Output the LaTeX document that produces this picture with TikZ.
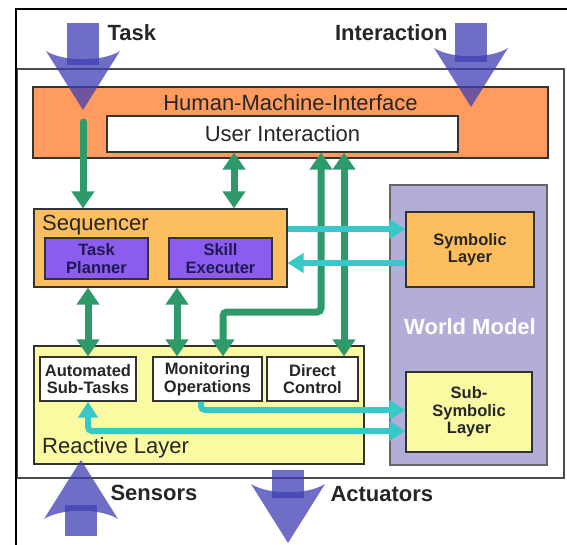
\documentclass[tikz,border=0pt]{standalone}
\usepackage{fontspec}
\setmainfont{Liberation Sans}
\usetikzlibrary{arrows.meta}

\definecolor{hmiorange}{RGB}{255,155,94}
\definecolor{seqorange}{RGB}{253,190,96}
\definecolor{planpurple}{RGB}{140,92,238}
\definecolor{reactyellow}{RGB}{250,250,162}
\definecolor{worldblue}{RGB}{178,174,216}
\definecolor{linkgreen}{RGB}{46,154,106}
\definecolor{linkcyan}{RGB}{56,200,200}
\definecolor{arrowblue}{RGB}{62,62,180}
\definecolor{purpletext}{RGB}{30,25,80}

% big translucent arrow, tip at the origin of the scope
\newcommand{\bigarrow}[2]{%
  \begin{scope}[#1]
    \fill[bluearrow] (-16,-#2) rectangle (16,-45);
    \fill[bluearrow] (-37,-59) -- (0,0) -- (37,-59) .. controls (20,-48) and (-20,-48) .. cycle;
  \end{scope}}

\begin{document}
\begin{tikzpicture}[x=1pt,y=-1pt,
  box/.style={draw=black!80,line width=1.2pt,inner sep=0pt},
  bigtxt/.style={font=\fontsize{22}{24}\selectfont,text=black!85},
  boldtxt/.style={font=\fontsize{22}{24}\selectfont\bfseries,text=black!85},
  smalltxt/.style={font=\fontsize{16.5}{17.5}\selectfont\bfseries,align=center,text=black!85},
  garrow/.style={draw=linkgreen,line width=7pt,>={Triangle[width=22pt,length=17pt]}},
  carrow/.style={draw=linkcyan,line width=6pt,>={Triangle[width=19pt,length=16pt]}},
  bluearrow/.style={fill=arrowblue,fill opacity=0.75}]
\useasboundingbox (0,0) rectangle (567,545);

% frames
\draw[draw=black!70,line width=1.5pt,fill=white] (17,69) rectangle (564,478);
\draw[line width=2.5pt] (16,545) -- (16,9) -- (567,9);

% human-machine-interface
\node[box,fill=hmiorange,minimum width=515pt,minimum height=71pt] (hmi) at (290.5,122.5) {};
\node[bigtxt] (hmitxt) at (290.5,103) {Human-Machine-Interface};
\node[box,fill=white,minimum width=351pt,minimum height=36pt,bigtxt] (ui) at (282.5,134) {User Interaction};

% sequencer
\node[box,fill=seqorange,minimum width=253pt,minimum height=78pt] (seq) at (160.5,248) {};
\node[bigtxt,anchor=west,inner sep=0pt] (seqtxt) at (42,225) {Sequencer};
\node[box,fill=planpurple,minimum width=103pt,minimum height=41pt,smalltxt,text=purpletext] (planner) at (96.5,258.5) {Task\\Planner};
\node[box,fill=planpurple,minimum width=103pt,minimum height=41pt,smalltxt,text=purpletext] (skill) at (220.5,258.5) {Skill\\Executer};

% reactive layer
\node[box,fill=reactyellow,minimum width=330pt,minimum height=118pt] (react) at (199,405) {};
\node[bigtxt,anchor=west,inner sep=0pt] (reacttxt) at (42,448) {Reactive Layer};
\node[box,fill=white,minimum width=96pt,minimum height=44pt,smalltxt] (auto) at (88,379) {Automated\\Sub-Tasks};
\node[box,fill=white,minimum width=109pt,minimum height=44pt,smalltxt] (mon) at (207.5,379) {Monitoring\\Operations};
\node[box,fill=white,minimum width=91pt,minimum height=44pt,smalltxt] (direct) at (312.5,379) {Direct\\Control};

% world model
\node[box,draw=black!60,fill=worldblue,minimum width=157pt,minimum height=280pt] (world) at (468.5,325) {};
\node[boldtxt,text=white] (worldtxt) at (470,327) {World Model};
\node[box,fill=seqorange,minimum width=128pt,minimum height=75pt,smalltxt] (sym) at (470,249.5) {Symbolic\\Layer};
\node[box,fill=reactyellow,minimum width=126pt,minimum height=80pt,smalltxt] (subsym) at (469,412) {Sub-\\Symbolic\\Layer};

% green links
\coordinate (taskin) at (83,122);
\coordinate (xui) at (234,0);
\coordinate (xsk) at (177,0);
\coordinate (xdc) at (344,0);
\coordinate (bendup) at (321,312);
\coordinate (benddown) at (223,312);
\draw[garrow,->,line cap=round] (taskin) -- (seq.north -| taskin);
\draw[garrow,<->] (ui.south -| xui) -- (seq.north -| xui);
\draw[garrow,<->] (seq.south -| auto.north) -- (auto.north);
\draw[garrow,<->] (seq.south -| xsk) -- (mon.north -| xsk);
\draw[garrow,<->,rounded corners=4pt] (ui.south -| bendup) -- (bendup) -- (benddown) -- (mon.north -| benddown);
\draw[garrow,<->] (ui.south -| xdc) -- (direct.north -| xdc);

% cyan links
\coordinate (cup) at (0,229);
\coordinate (cdown) at (0,263);
\coordinate (cmon) at (201,410);
\coordinate (cauto) at (88,431);
\draw[carrow,->] (seq.east |- cup) -- (sym.west |- cup);
\draw[carrow,->] (sym.west |- cdown) -- (seq.east |- cdown);
\draw[carrow,->,rounded corners=4pt] (mon.south -| cmon) -- (cmon) -- (subsym.west |- cmon);
\draw[carrow,<->,rounded corners=4pt] (auto.south -| cauto) -- (cauto) -- (subsym.west |- cauto);

% in- and outputs
\bigarrow{shift={(83,110)}}{87}
\bigarrow{shift={(471,107)}}{84}
\bigarrow{shift={(81,460)},yscale=-1}{76}
\bigarrow{shift={(288,543)}}{73}

\node[boldtxt,anchor=west] (task) at (104,33) {Task};
\node[boldtxt,anchor=east] (inter) at (451,33) {Interaction};
\node[boldtxt,anchor=west] (sens) at (107,493) {Sensors};
\node[boldtxt,anchor=west] (act) at (327,494) {Actuators};
\end{tikzpicture}
\end{document}
